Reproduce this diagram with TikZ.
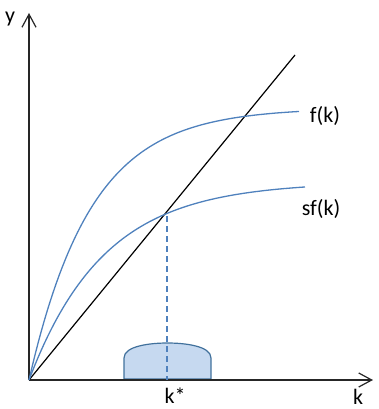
\documentclass[tikz,border=0pt]{standalone}
\usepackage{fontspec}
\setmainfont{Carlito}
\usetikzlibrary{arrows.meta}
\definecolor{egri}{HTML}{4F81BD}
\definecolor{kenar}{HTML}{41719C}
\definecolor{dolgu}{HTML}{C6D9F0}
\begin{document}
\begin{tikzpicture}[x=1pt, y=-1pt, font=\fontsize{22}{26}\selectfont,
    eksen/.style={line width=1.6pt, black!85, -{Straight Barb[length=13pt,width=14pt,line width=1.2pt]}},
    egriler/.style={egri, line width=1.3pt},
    etiket/.style={inner sep=0pt}]
  \useasboundingbox (0,0) rectangle (378,409);
  % eksenler
  \coordinate (O) at (29,380);
  \coordinate (ytop) at (29,13);
  \coordinate (xend) at (373,380);
  \node[etiket] (ylab) at (10,19) {y};
  \node[etiket] (klab) at (358,397) {k};

  % kararli durum: k* etrafindaki dagilim
  \draw[kenar, fill=dolgu, line width=1.2pt]
    (124,379) -- (124,358) .. controls (124,346) and (150,343) .. (167.5,343)
    .. controls (185,343) and (211,346) .. (211,358) -- (211,379) -- cycle;

  \draw[eksen] (O) -- (ytop);
  \draw[eksen] (O) -- (xend);

  % yatirim dogrusu
  \coordinate (lend) at (295,55);
  \draw[black, line width=1.2pt] (O) -- (lend);

  % f(k) ve sf(k)
  \draw[egriler] plot[domain=0:270, samples=90] ({29+\x},{380-272*(1-exp(-\x/62))});
  \draw[egriler] plot[domain=0:276, samples=90] ({29+\x},{380-198*(1-exp(-\x/75))});
  \node[etiket] (flab) at (325,116) {f(k)};
  \node[etiket] (sflab) at (321,209) {sf(k)};

  % k* noktasi
  \coordinate (kes) at (167,216);
  \coordinate (kyildiz) at (167,380);
  \draw[egri, line width=1.2pt, dash pattern=on 6pt off 4pt] (kes) -- (kyildiz);
  \node[etiket] (kslab) at (175,396) {k*};
\end{tikzpicture}
\end{document}
